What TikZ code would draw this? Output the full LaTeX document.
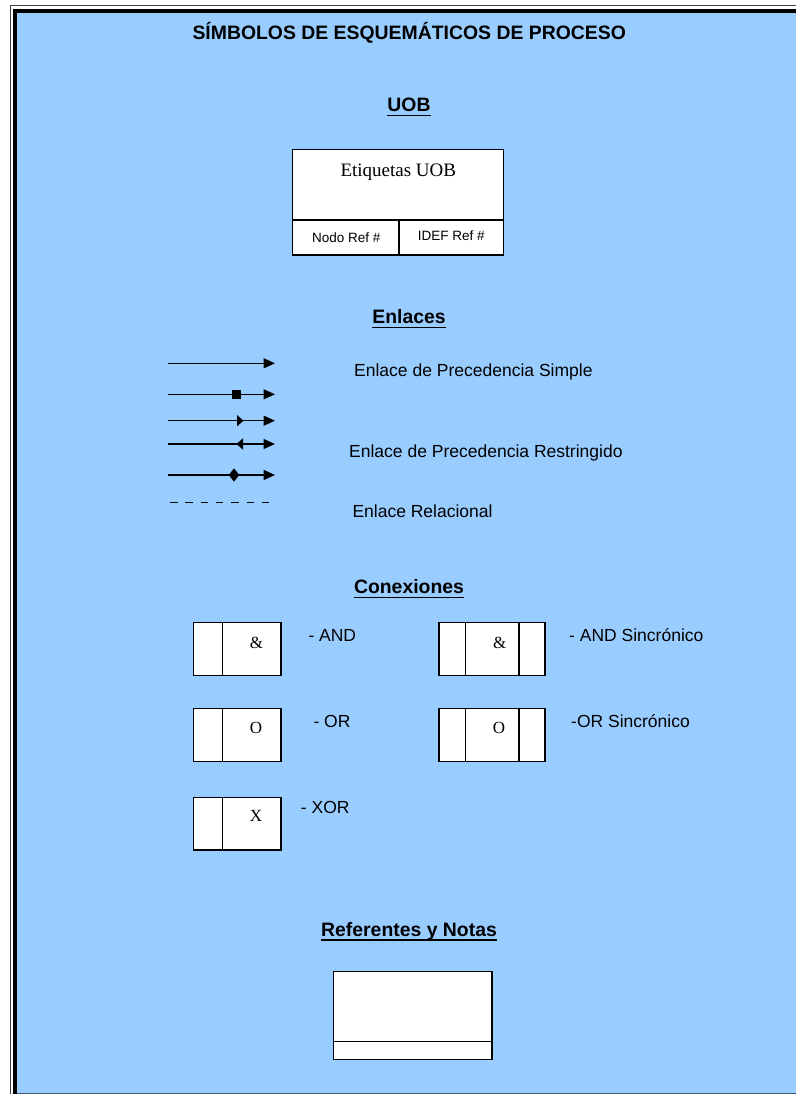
\documentclass[tikz,border=0pt]{standalone}
\usepackage{fontspec}
\setmainfont{Liberation Serif}
\setsansfont{Liberation Sans}
\usetikzlibrary{arrows.meta}
\definecolor{bgblue}{RGB}{153,204,255}
\definecolor{edgeblue}{RGB}{60,88,115}
\begin{document}
\begin{tikzpicture}[x=1pt,y=-1pt,
  hdr/.style={font=\sffamily\bfseries\fontsize{19.4}{22}\selectfont, inner sep=0pt, anchor=base},
  lbl/.style={font=\sffamily\fontsize{17.5}{20}\selectfont, inner sep=0pt, anchor=base west},
  small/.style={font=\sffamily\fontsize{13.5}{16}\selectfont, inner sep=0pt, anchor=base},
  sym/.style={font=\fontsize{17}{20}\selectfont, inner sep=0pt},
  box/.style={draw=black, fill=white, line width=1.3pt},
  boxline/.style={draw=black, line width=1.3pt},
  link/.style={line width=1.3pt, -{Triangle[length=11.5pt,width=10pt]}},
  ul/.style={line width=1.8pt},
]
\useasboundingbox (0,0) rectangle (796,1094);
\fill[white] (0,0) rectangle (796,1094);
\fill[bgblue] (17.3,13.3) rectangle (796,1094);
% frame
\draw[line width=1pt, black!75] (10,1094) -- (10,5.5) -- (796,5.5);
\draw[line width=4.7pt] (15,1094) -- (15,10.9) -- (796,10.9);
\draw[edgeblue, line width=1.2pt] (17.3,1093.4) -- (796,1093.4);

% title
\node[hdr] (title) at (409.2,40) {SÍMBOLOS DE ESQUEMÁTICOS DE PROCESO};

% UOB
\node[hdr] (hUOB) at (409,111.7) {UOB};
\draw[ul] ([yshift=-3.8pt]hUOB.base west) -- ([yshift=-3.8pt]hUOB.base east);
\draw[box] (292.7,149.3) rectangle (503.3,255);
\draw[boxline] (292.7,220) -- (503.3,220);
\draw[boxline] (399,220) -- (399,255);
\node[font=\fontsize{19}{22}\selectfont, inner sep=0pt, anchor=base] (etq) at (398.3,176.7) {Etiquetas UOB};
\node[small] (nodoref) at (346.2,242.3) {Nodo Ref \#};
\node[small] (idefref) at (451.2,240) {IDEF Ref \#};

% Enlaces
\node[hdr] (hEnl) at (409,323.7) {Enlaces};
\draw[ul] ([yshift=-3.8pt]hEnl.base west) -- ([yshift=-3.8pt]hEnl.base east);

\coordinate (a1s) at (168,363.3); \coordinate (a1e) at (275,363.3);
\coordinate (a2s) at (168,394.3); \coordinate (a2e) at (275,394.3);
\coordinate (a3s) at (168,420.7); \coordinate (a3e) at (275,420.7);
\coordinate (a4s) at (168,444);   \coordinate (a4e) at (275,444);
\coordinate (a5s) at (168,475);   \coordinate (a5e) at (275,475);
\coordinate (a6s) at (170,502.3); \coordinate (a6e) at (277,502.3);

\draw[link] (a1s) -- (a1e);
\draw[link] (a2s) -- (a2e);
\fill (232,389.8) rectangle (241,398.8);
\draw[link] (a3s) -- (a3e);
\fill (237,415) -- (243.5,420.7) -- (237,426.4) -- cycle;
\draw[link] (a4s) -- (a4e);
\fill (236.5,444) -- (243,438.3) -- (243,449.7) -- cycle;
\draw[link, line width=1.7pt] (a5s) -- (a5e);
\fill (228.8,475) -- (234,468.3) -- (239.2,475) -- (234,481.7) -- cycle;
\draw[line width=1.1pt, dash pattern=on 7.5pt off 7.8pt] (a6s) -- (a6e);

\node[lbl] (lsimple) at (354,376) {Enlace de Precedencia Simple};
\node[lbl] (lrestr) at (349,457.3) {Enlace de Precedencia Restringido};
\node[lbl] (lrel) at (352.3,517.3) {Enlace Relacional};

% Conexiones
\node[hdr] (hCon) at (409,593.7) {Conexiones};
\draw[ul] ([yshift=-3.8pt]hCon.base west) -- ([yshift=-3.8pt]hCon.base east);

% AND
\draw[box] (193.3,622.7) rectangle (281,675.7);
\draw[boxline] (222.7,622.7) -- (222.7,675.7);
\node[sym] (andsym) at (256.4,642.5) {\&};
\node[lbl] (landd) at (308.3,641.7) {- AND};
% AND Sincronico
\draw[box] (439,622.7) rectangle (545,675.7);
\draw[boxline] (465.7,622.7) -- (465.7,675.7);
\draw[boxline] (519,622.7) -- (519,675.7);
\node[sym] (andssym) at (499.7,642.5) {\&};
\node[lbl] (lands) at (569,641.7) {- AND Sincrónico};
% OR
\draw[box] (193.3,708.3) rectangle (281,761.3);
\draw[boxline] (222.7,708.3) -- (222.7,761.3);
\node[sym] (orsym) at (256,727.7) {O};
\node[lbl] (lor) at (313.3,727.3) {- OR};
% OR Sincronico
\draw[box] (439,708.3) rectangle (545,761.3);
\draw[boxline] (465.7,708.3) -- (465.7,761.3);
\draw[boxline] (519,708.3) -- (519,761.3);
\node[sym] (orssym) at (499,727.7) {O};
\node[lbl] (lors) at (571,727.3) {-OR Sincrónico};
% XOR
\draw[box] (193.3,797.3) rectangle (281,850);
\draw[boxline] (222.7,797.3) -- (222.7,850);
\node[sym] (xorsym) at (256,816) {X};
\node[lbl] (lxor) at (300.7,813.3) {- XOR};

% Referentes y Notas
\node[hdr] (hRef) at (409,936.5) {Referentes y Notas};
\draw[ul] ([yshift=-3.8pt]hRef.base west) -- ([yshift=-3.8pt]hRef.base east);
\draw[box] (333.3,971.7) rectangle (492,1059.3);
\draw[boxline] (333.3,1041.7) -- (492,1041.7);
\end{tikzpicture}
\end{document}
